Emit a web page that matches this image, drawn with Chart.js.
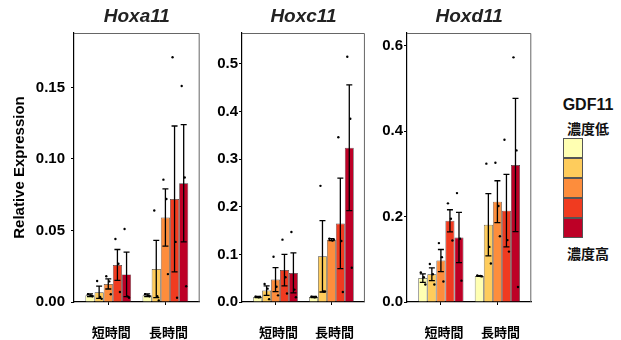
<!DOCTYPE html>
<html>
<head>
<meta charset="utf-8">
<script src="https://cdn.jsdelivr.net/npm/chart.js@4.4.0/dist/chart.umd.min.js"></script>
<style>
  body { margin: 0; background: #fff; }
  #wrap { position: relative; width: 621px; height: 340px; overflow: hidden; }
  #wrap canvas { position: absolute; top: 0; }
  .leg { position: absolute; font-weight: bold; color: #111; text-align: center; width: 60px; }
  .box { position: absolute; left: 563px; width: 18px; height: 18px; border: 1px solid #555; }
</style>
</head>
<body>
<div id="wrap">
  <canvas id="c1" width="205" height="340" style="left:0px"></canvas>
  <canvas id="c2" width="170" height="340" style="left:201px"></canvas>
  <canvas id="c3" width="170" height="340" style="left:367px"></canvas>
  <div class="leg" style="left:558px; top:96px; font-family:'Liberation Sans', Arial; font-size:16px;">GDF11</div>
  <div class="leg" style="left:558px; top:118px; font-family:'Noto Sans CJK JP'; font-size:14px;">濃度低</div>
  <div id="boxes"></div>
  <div class="leg" style="left:558px; top:243px; font-family:'Noto Sans CJK JP'; font-size:14px;">濃度高</div>
</div>
<script>
// groups on the x axis, one bar per GDF11 level inside each group
const groups = ['短時間', '長時間'];
const levelColors = ['#ffffb2', '#fecc5c', '#fd8d3c', '#f03b20', '#bd0026'];

// Hoxa11: [short, long] x 5 levels
const hoxa11Mean = [[0.0047, 0.0068, 0.0126, 0.0259, 0.0193], [0.0047, 0.023, 0.059, 0.072, 0.083]];
const hoxa11Se = [[0.001, 0.0043, 0.0035, 0.0108, 0.0155], [0.001, 0.020, 0.020, 0.051, 0.041]];
const hoxa11Pts = [
  [[0.0055, 0.0045, 0.004], [0.0147, 0.0035, 0.0022], [0.018, 0.0144, 0.0054], [0.044, 0.0267, 0.007], [0.051, 0.0039, 0.003]],
  [[0.0055, 0.0045, 0.004], [0.064, 0.004, 0.001], [0.0855, 0.072, 0.0195], [0.171, 0.042, 0.003], [0.151, 0.087, 0.011]]
];
const hoxa11Ticks = [0, 0.05, 0.10, 0.15];

// Hoxc11
const hoxc11Mean = [[0.0105, 0.024, 0.047, 0.067, 0.061], [0.0105, 0.096, 0.131, 0.165, 0.324]];
const hoxc11Se = [[0.001, 0.01, 0.025, 0.033, 0.042], [0.001, 0.075, 0.002, 0.095, 0.132]];
const hoxc11Pts = [
  [[0.011, 0.010, 0.0105], [0.038, 0.028, 0.006], [0.095, 0.032, 0.014], [0.131, 0.052, 0.018], [0.147, 0.026, 0.010]],
  [[0.011, 0.010, 0.0105], [0.244, 0.022, 0.022], [0.133, 0.129, 0.131], [0.346, 0.128, 0.021], [0.515, 0.385, 0.072]]
];
const hoxc11Ticks = [0, 0.1, 0.2, 0.3, 0.4, 0.5];

// Hoxd11
const hoxd11Mean = [[0.056, 0.065, 0.097, 0.19, 0.151], [0.061, 0.181, 0.235, 0.214, 0.321]];
const hoxd11Se = [[0.01, 0.015, 0.026, 0.026, 0.059], [0.001, 0.073, 0.049, 0.085, 0.156]];
const hoxd11Pts = [
  [[0.069, 0.058, 0.041], [0.089, 0.065, 0.041], [0.138, 0.105, 0.048], [0.231, 0.195, 0.144], [0.255, 0.148, 0.05]],
  [[0.062, 0.061, 0.060], [0.324, 0.129, 0.09], [0.326, 0.225, 0.154], [0.38, 0.145, 0.118], [0.573, 0.355, 0.035]]
];
const hoxd11Ticks = [0, 0.2, 0.4, 0.6];

const latin = "'Liberation Sans', Arial, sans-serif";
const cjk = "'Noto Sans CJK JP', sans-serif";

// legend boxes
const boxes = document.getElementById('boxes');
levelColors.forEach((c, i) => {
  let b = document.createElement('div');
  b.className = 'box';
  b.style.top = (138 + i * 20) + 'px';
  b.style.background = c;
  boxes.appendChild(b);
});

// error bars + replicate dots
const jitter = [-2, 1, 2.5];
const errorDots = {
  id: 'errorDots',
  afterDatasetsDraw(chart) {
    const ctx = chart.ctx;
    const y = chart.scales.y;
    ctx.save();
    chart.data.datasets.forEach((ds, i) => {
      chart.getDatasetMeta(i).data.forEach((bar, j) => {
        const m = ds.data[j].y, s = ds.se[j];
        const top = y.getPixelForValue(m + s);
        const bot = y.getPixelForValue(Math.max(m - s, 0));
        ctx.strokeStyle = '#000';
        ctx.lineWidth = 1.3;
        ctx.beginPath();
        ctx.moveTo(bar.x, top); ctx.lineTo(bar.x, bot);
        ctx.moveTo(bar.x - 3, top); ctx.lineTo(bar.x + 3, top);
        ctx.moveTo(bar.x - 3, bot); ctx.lineTo(bar.x + 3, bot);
        ctx.stroke();
        ctx.fillStyle = '#000';
        ds.pts[j].forEach((v, k) => {
          ctx.beginPath();
          ctx.arc(bar.x + jitter[k], y.getPixelForValue(v), 1.2, 0, Math.PI * 2);
          ctx.fill();
        });
      });
    });
    ctx.restore();
  }
};

// panel title + grey top/right frame
const panelDeco = {
  id: 'panelDeco',
  beforeDatasetsDraw(chart) {
    const a = chart.chartArea, ctx = chart.ctx;
    ctx.save();
    ctx.strokeStyle = '#666';
    ctx.lineWidth = 1;
    ctx.beginPath();
    ctx.moveTo(a.left, a.top + 0.5); ctx.lineTo(a.right - 0.5, a.top + 0.5); ctx.lineTo(a.right - 0.5, a.bottom);
    ctx.stroke();
    ctx.restore();
  },
  afterDraw(chart) {
    const a = chart.chartArea, ctx = chart.ctx;
    ctx.save();
    ctx.font = "italic bold 19px " + latin;
    ctx.fillStyle = '#222';
    ctx.textAlign = 'center';
    ctx.textBaseline = 'middle';
    ctx.fillText(chart.options.panelTitle, (a.left + a.right) / 2, 17);
    ctx.restore();
  }
};

function makePanel(id, title, means, ses, pts, yMax, yTicks, decimals, yWidth, tickPad, showYTitle) {
  const datasets = levelColors.map((c, k) => ({
    data: groups.map((g, gi) => ({ x: gi + 1, y: means[gi][k] })),
    se: groups.map((g, gi) => ses[gi][k]),
    pts: groups.map((g, gi) => pts[gi][k]),
    backgroundColor: c,
    borderColor: '#444',
    borderWidth: 0.7,
    categoryPercentage: 0.8,
    barPercentage: 1
  }));

  new Chart(document.getElementById(id), {
    type: 'bar',
    data: { datasets: datasets },
    options: {
      responsive: false,
      animation: false,
      panelTitle: title,
      layout: { padding: { top: 33, right: 4, left: 0, bottom: 0 } },
      plugins: { legend: { display: false }, tooltip: { enabled: false } },
      scales: {
        x: {
          type: 'linear',
          min: 0.4,
          max: 2.6,
          offset: false,
          afterBuildTicks: s => { s.ticks = groups.map((g, i) => ({ value: i + 1 })); },
          afterFit: s => { s.height = 38; },
          ticks: {
            callback: v => groups[v - 1],
            font: { family: cjk, weight: 'bold', size: 13 },
            color: '#000',
            padding: 19,
            labelOffset: 3,
            autoSkip: false,
            maxRotation: 0
          },
          grid: { drawOnChartArea: false, drawTicks: true, tickLength: 3, color: '#000', offset: false },
          border: { color: '#000', width: 1.2 }
        },
        y: {
          min: 0,
          max: yMax,
          afterBuildTicks: s => { s.ticks = yTicks.map(v => ({ value: v })); },
          afterFit: s => { s.width = yWidth; },
          ticks: {
            callback: v => Number(v).toFixed(decimals),
            font: { family: latin, weight: 'bold', size: 15 },
            color: '#000',
            padding: tickPad
          },
          grid: { drawOnChartArea: false, drawTicks: true, tickLength: 3, color: '#000' },
          border: { color: '#000', width: 1.2 },
          title: {
            display: showYTitle,
            text: 'Relative Expression',
            font: { family: latin, weight: 'bold', size: 15 },
            color: '#000',
            padding: { top: 11, bottom: 0 }
          }
        }
      }
    },
    plugins: [errorDots, panelDeco]
  });
}

makePanel('c1', 'Hoxa11', hoxa11Mean, hoxa11Se, hoxa11Pts, 0.188, hoxa11Ticks, 2, 74, 6, true);
makePanel('c2', 'Hoxc11', hoxc11Mean, hoxc11Se, hoxc11Pts, 0.565, hoxc11Ticks, 1, 41, 1, false);
makePanel('c3', 'Hoxd11', hoxd11Mean, hoxd11Se, hoxd11Pts, 0.63, hoxd11Ticks, 1, 40, 1, false);
</script>
</body>
</html>
